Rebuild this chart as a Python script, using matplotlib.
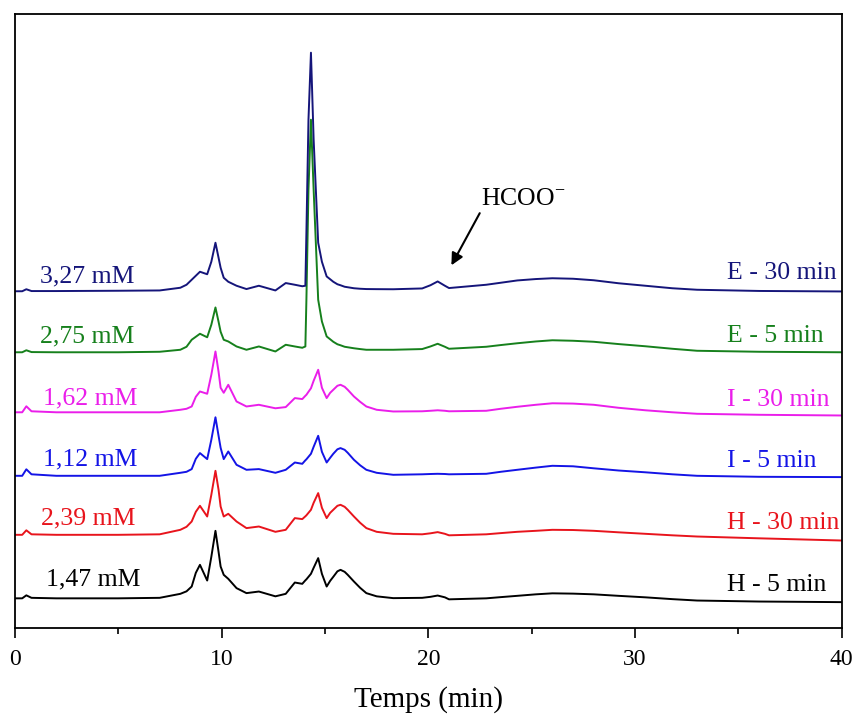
import numpy as np
import matplotlib
matplotlib.use("Agg")
import matplotlib.pyplot as plt
from matplotlib.ticker import MultipleLocator

plt.rcParams["font.family"] = ["Liberation Serif", "DejaVu Serif"]
plt.rcParams["mathtext.fontset"] = "custom"
plt.rcParams["mathtext.rm"] = "Liberation Serif"

# retention time grid (min), shared by all traces
time = [0, 0.35, 0.55, 0.8, 2, 5, 7,
        8.0, 8.3, 8.55, 8.75, 8.95,
        9.3, 9.5, 9.7, 9.85, 9.95,
        10.1, 10.32, 10.72,
        11.2, 11.8, 12.6, 13.1, 13.54, 13.9,
        14.05, 14.1, 14.2, 14.32, 14.45, 14.67, 14.85,
        15.08, 15.25, 15.4, 15.6, 15.75, 15.95,
        16.1, 16.4, 16.7, 17.0, 17.5,
        18.3, 19.7, 20.1, 20.45, 20.8, 21.0,
        22.8, 23.5, 24.3, 25.2, 26.0, 27.0, 28.0, 29.2, 30.5, 31.8, 33.0, 36.0, 40.0]

# detector signal (a.u., traces already stacked)
e_30 = [336.5, 336.5, 338.5, 336.7, 336.7, 337, 337.3,
        340, 343, 348, 352, 356,
        353.5, 366, 385, 370, 360,
        350, 346, 342,
        338.7, 342, 337.3, 344.7, 343, 341.5,
        342, 395, 508, 575, 488, 385, 366,
        351.3, 348.5, 346, 343.5, 342.5, 341,
        340.5, 339.5, 339, 338.7, 338.6,
        338.5, 339.3, 342.5, 346.3, 342, 339.7,
        343, 345, 347.3, 348.7, 349.5, 349, 347.5, 344.5, 342, 339.5, 338, 336.8, 336.3]
e_5 = [275.5, 275.5, 277.5, 275.7, 275.5, 275.5, 276,
       278, 281, 288, 291, 294,
       290.5, 303, 320.3, 306, 296,
       288, 286.3, 281.3,
       278, 281.3, 276.3, 283, 281.3, 280,
       281.3, 328, 438, 508, 438, 328, 306.3,
       291.3, 288.5, 286, 283.5, 282.5, 281,
       280.5, 279.5, 278.7, 278, 278,
       278, 278.7, 281.3, 284, 281, 279,
       281, 282.7, 284.5, 286.3, 287.5, 287, 286, 283.7, 281.5, 279, 277, 276, 275.5]
i_30 = [215.5, 215.5, 221.5, 216.5, 215.5, 215.5, 215.5,
        218, 219, 221.3, 231, 236.3,
        234, 253, 276.3, 256, 240,
        235, 243, 226.3,
        221.3, 223, 219.5, 220.7, 229.7, 228.7,
        232, 233, 236, 239.5, 247, 258, 240,
        229.7, 235, 238, 242, 243, 241,
        238, 231.3, 226, 221.3, 218,
        216.3, 216.5, 217, 217.5, 217, 216.5,
        217, 219, 221, 223, 224.5, 224.2, 223, 220, 217.5, 215.5, 214, 213, 212.3]
i_5 = [152, 152, 158.5, 153.5, 152, 152, 152,
       155, 156, 158.7, 169, 174.7,
       168.7, 188, 210.5, 192, 180,
       168.7, 176.3, 163,
       158, 158.7, 155, 158, 165.3, 164,
       167.5, 168.5, 171, 174, 181, 192, 176,
       165.3, 170, 174, 178.5, 179.7, 178,
       175, 168, 162.5, 158, 155,
       153, 153.5, 153.8, 154, 153.8, 153.5,
       154, 156, 158, 160.2, 162, 161.5, 159.5, 157.3, 155.5, 153.5, 152, 151, 150.7]
h_30 = [93, 93, 97.5, 93.5, 93, 93, 93.5,
        98, 101, 106.3, 116, 122,
        111.3, 133, 157, 138, 121.3,
        111.3, 114, 106.3,
        99.7, 101.3, 96, 98, 109.7, 108.7,
        111.5, 112.5, 115, 118, 125, 134.7, 120,
        109.7, 115, 118, 122, 123, 121,
        118, 111.3, 105, 99.7, 96,
        94, 93.5, 94.5, 95.7, 94, 92.5,
        93.5, 94.7, 96, 97, 98, 97.8, 97, 95.5, 94, 92.5, 91.3, 89.5, 87.3]
h_5 = [29.5, 29.5, 32.5, 30, 29.5, 29.5, 30,
       34, 36.5, 41.3, 55, 63,
       47.3, 71, 97, 76, 61.3,
       53, 49, 39.7,
       34.7, 36.3, 31.5, 34, 45.3, 44,
       47.5, 48.5, 51, 54, 60, 69.7, 54,
       41.3, 47, 51, 56.5, 58, 56,
       53, 46.3, 40, 34.7, 31.5,
       29.7, 30, 31, 32.3, 30.5, 28.5,
       29.5, 30.7, 32, 33.5, 34.5, 34.2, 33.5, 32, 30.5, 28.7, 27.3, 26.3, 25.7]

samples = ["H - 5 min", "H - 30 min", "I - 5 min", "I - 30 min", "E - 5 min", "E - 30 min"]
conc = ["1,47 mM", "2,39 mM", "1,12 mM", "1,62 mM", "2,75 mM", "3,27 mM"]
traces = [h_5, h_30, i_5, i_30, e_5, e_30]
colors = ["#000000", "#e8141c", "#1414e6", "#ea1eea", "#16801c", "#15157a"]

# label placement
conc_x = [1.5, 1.26, 1.35, 1.35, 1.21, 1.21]
conc_y = [48, 109.7, 168, 229.7, 291.3, 351.3]
sample_y = [43, 105, 166.3, 228, 291.3, 354.7]

fig = plt.figure(figsize=(8.55, 7.2), dpi=100)
ax = fig.add_axes([0.0175, 0.128, 0.967, 0.853])

for y, c, s, cl, cx, cy, sy in zip(traces, colors, samples, conc, conc_x, conc_y, sample_y):
    ax.plot(time, y, color=c, lw=1.4, solid_joinstyle="round")
    ax.text(cx, cy, cl, color=c, fontsize=18.5, ha="left", va="center")
    ax.text(34.44, sy, s, color=c, fontsize=18.5, ha="left", va="center")

ax.annotate("", xy=(21.05, 360), xytext=(22.55, 417),
            arrowprops=dict(arrowstyle="-|>", color="black", lw=1.5, mutation_scale=18))
ax.text(22.55, 428, r"HCOO$^{-}$", fontsize=18.5, ha="left", va="center")

ax.set_xlim(0, 40)
ax.set_ylim(0, 614)
ax.set_yticks([])
ax.xaxis.set_major_locator(MultipleLocator(10))
ax.xaxis.set_minor_locator(MultipleLocator(5))
ax.tick_params(axis="x", which="major", direction="out", length=7, width=1.2, labelsize=17, pad=8)
ax.tick_params(axis="x", which="minor", direction="out", length=4, width=1.2)
for sp in ax.spines.values():
    sp.set_linewidth(1.3)
ax.set_xlabel("Temps (min)", fontsize=21, labelpad=12)

fig.savefig("out.png", dpi=100)
